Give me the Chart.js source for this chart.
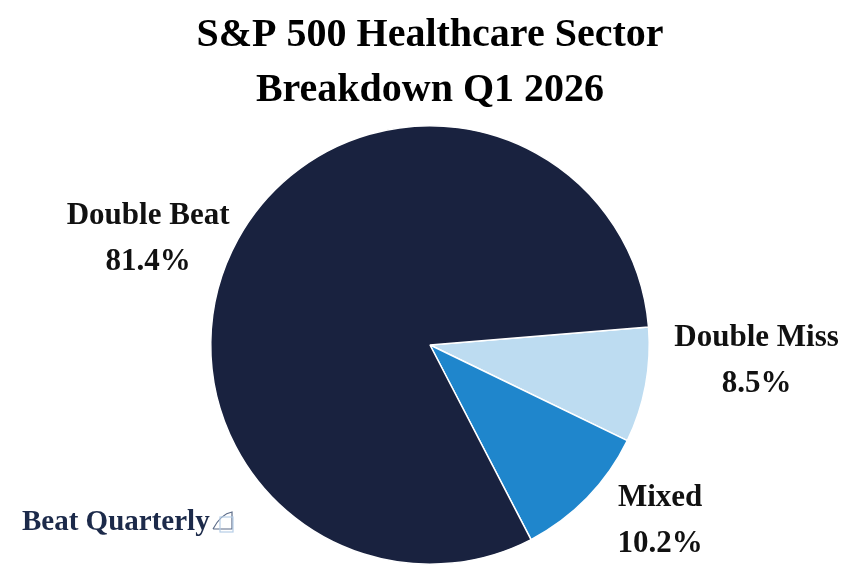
<!DOCTYPE html>
<html>
<head>
<meta charset="utf-8">
<script src="https://cdn.jsdelivr.net/npm/chart.js@4"></script>
<style>
  html, body { margin: 0; padding: 0; background: #fff; }
  #wrap { width: 860px; height: 570px; }
</style>
</head>
<body>
<div id="wrap"><canvas id="pieChart" width="860" height="570"></canvas></div>
<script>
const categories = ["Double Miss", "Mixed", "Double Beat"];
const shares = [8.5, 10.2, 81.4];
const sliceColors = ["#bddcf1", "#1f86cc", "#19223f"];
const titleLines = ["S&P 500 Healthcare Sector", "Breakdown Q1 2026"];
// label nudges from the slice edge point (x, y), in pixels
const labelNudge = [[111, -24], [73, 23], [-90, 0]];

const serif = "'Liberation Serif', 'DejaVu Serif', serif";

const sliceLabels = {
    id: "sliceLabels",
    afterDatasetsDraw(chart) {
        const ctx = chart.ctx;
        const arcs = chart.getDatasetMeta(0).data;
        ctx.save();
        ctx.fillStyle = "#111";
        ctx.textAlign = "center";
        ctx.textBaseline = "middle";
        ctx.font = "bold 31px " + serif;
        arcs.forEach((arc, i) => {
            const mid = (arc.startAngle + arc.endAngle) / 2;
            const x = arc.x + Math.cos(mid) * arc.outerRadius + labelNudge[i][0];
            const y = arc.y + Math.sin(mid) * arc.outerRadius + labelNudge[i][1];
            ctx.fillText(categories[i], x, y - 23);
            ctx.fillText(shares[i].toFixed(1) + "%", x, y + 23);
        });
        ctx.restore();
    }
};

const brandMark = {
    id: "brandMark",
    afterDraw(chart) {
        const ctx = chart.ctx;
        ctx.save();
        ctx.fillStyle = "#1c2a4a";
        ctx.font = "bold 29px " + serif;
        ctx.textBaseline = "alphabetic";
        ctx.fillText("Beat Quarterly", 22, 530);
        // small quarter-circle icon
        ctx.strokeStyle = "#5b6b88";
        ctx.lineWidth = 1.2;
        ctx.beginPath();
        ctx.moveTo(213, 529);
        ctx.lineTo(232, 529);
        ctx.lineTo(232, 512);
        ctx.quadraticCurveTo(221, 514, 213, 529);
        ctx.stroke();
        ctx.strokeStyle = "#b6cde6";
        ctx.strokeRect(220, 517, 13, 15);
        ctx.restore();
    }
};

new Chart(document.getElementById("pieChart"), {
    type: "pie",
    data: {
        labels: categories,
        datasets: [{
            data: shares,
            backgroundColor: sliceColors,
            borderColor: "#fff",
            borderWidth: 1.5
        }]
    },
    options: {
        responsive: false,
        animation: false,
        rotation: 85.3,
        layout: { padding: { top: 0, bottom: 5, left: 0, right: 0 } },
        plugins: {
            legend: { display: false },
            tooltip: { enabled: false },
            title: {
                display: true,
                text: titleLines,
                color: "#000",
                font: { family: serif, size: 40, weight: "bold", lineHeight: 1.375 },
                padding: { top: 8, bottom: 7 }
            }
        }
    },
    plugins: [sliceLabels, brandMark]
});
</script>
</body>
</html>
